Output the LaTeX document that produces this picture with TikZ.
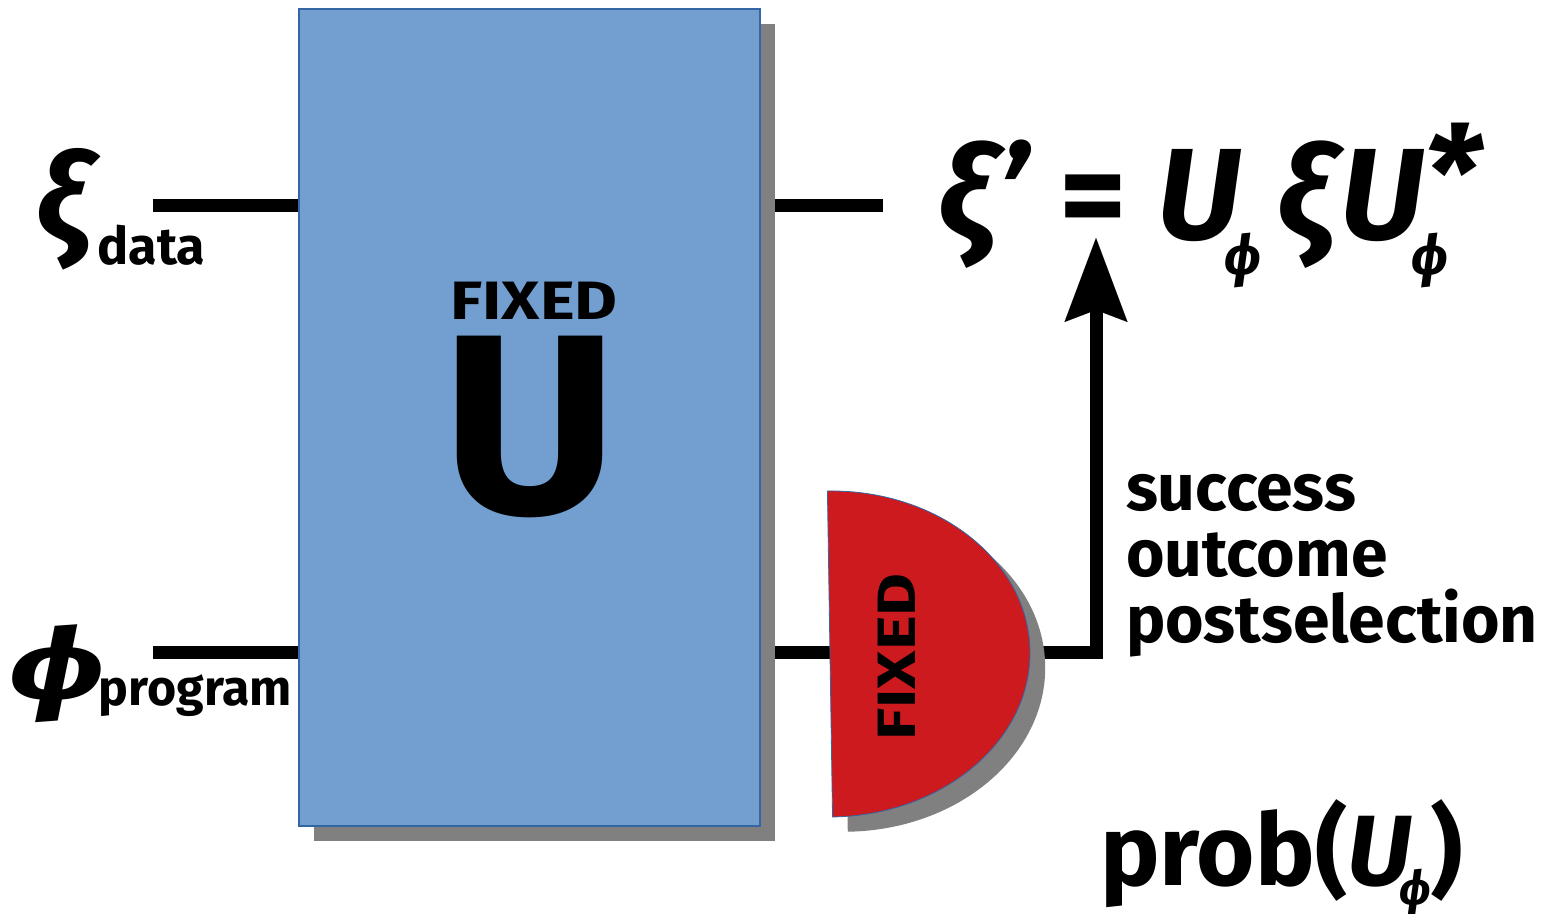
\documentclass[tikz,border=0pt]{standalone}
\usepackage{fontspec}
\setmainfont{Fira Sans}
\usetikzlibrary{positioning, arrows.meta, calc}
\definecolor{boxBlue}{RGB}{114,159,207}
\definecolor{boxEdge}{RGB}{52,101,164}
\definecolor{measRed}{RGB}{204,26,30}
\definecolor{shadowGray}{RGB}{128,128,128}
\newcommand{\fsz}[1]{\fontsize{#1}{#1}\selectfont}
\newcommand{\wide}[1]{\scalebox{1.22}[1]{#1}}

\begin{document}
\begin{tikzpicture}[x=0.5pt, y=-0.5pt,
    wire/.style={line width=6.5pt},
    gate/.style={draw=boxEdge, line width=0.6pt, fill=boxBlue, minimum width=230.5pt,
                 minimum height=408.5pt, inner sep=0pt, outer sep=0pt},
    txt/.style={inner sep=0pt, outer sep=0pt, font=\bfseries}]
  \useasboundingbox (0,0) rectangle (1551,914);

  % wire ends
  \coordinate (xin) at (153,206);
  \coordinate (pin) at (153,652);
  \coordinate (xout) at (883,206);
  \coordinate (tip) at (1096,238);
  \coordinate (meas) at (830,654);

  % wires (box and detector sit on top)
  \draw[wire] (xin) -- (xout);
  \draw[wire, -{Stealth[length=42pt, width=31.5pt, inset=6pt, line width=0.01pt]}] (pin) -| (tip);

  % the fixed unitary
  \fill[shadowGray] (314,24) rectangle (775,841);
  \node[gate] (U) at (529.5,417.5) {};
  \node[txt, anchor=base, font={\fsz{27}\bfseries}] (fixU) at (534,320) {\wide{FIXED}};
  \node[txt, anchor=base, font={\fsz{128}\bfseries}] (bigU) at (530,513) {\scalebox{1.05}[1]{U}};

  % the fixed measurement
  \begin{scope}[rotate around={0.9:(meas)}]
    \fill[shadowGray] ([shift={(15,-148)}]meas) arc[start angle=-90, end angle=90,
                     x radius=200, y radius=163] -- cycle;
    \filldraw[fill=measRed, draw=boxEdge, line width=0.4pt] ([shift={(0,-163)}]meas)
                     arc[start angle=-90, end angle=90, x radius=200, y radius=163] -- cycle;
  \end{scope}
  \node[txt, rotate=90, anchor=base, font={\fsz{27}\bfseries}] (fixM) at (915,657) {\wide{FIXED}};

  % labels
  \node[txt, anchor=base west] (xilbl) at (36,243)
       {{\fsz{62}\itshape ξ}\kern3.5pt\raisebox{-11pt}{\fsz{26}data}};
  \node[txt, anchor=base west] (philbl) at (10,700)
       {\scalebox{1.45}[1]{\fsz{50}\itshape ϕ}\kern-3pt\raisebox{-2.5pt}{\fsz{25}program}};
  \node[txt, anchor=base west, font={\fsz{65}\bfseries}] (eqn) at (938,240)
       {\itshape ξ’\upshape\ =\ \itshape U\kern-8pt\raisebox{-18pt}{\fsz{28}ϕ}\kern8pt ξ\kern3pt U\rlap{\raisebox{10pt}{*}}\kern-6pt\raisebox{-18pt}{\fsz{28}ϕ}};
  \node[txt, anchor=north west, align=left, font={\fsz{33}\bfseries}] (post) at (1126,474)
       {success\\outcome\\postselection};
  \node[txt, anchor=base west, font={\fsz{50}\bfseries}] (prob) at (1100,885)
       {prob(\itshape U\kern-6pt\raisebox{-10pt}{\fsz{24}ϕ}\upshape)};
\end{tikzpicture}
\end{document}
